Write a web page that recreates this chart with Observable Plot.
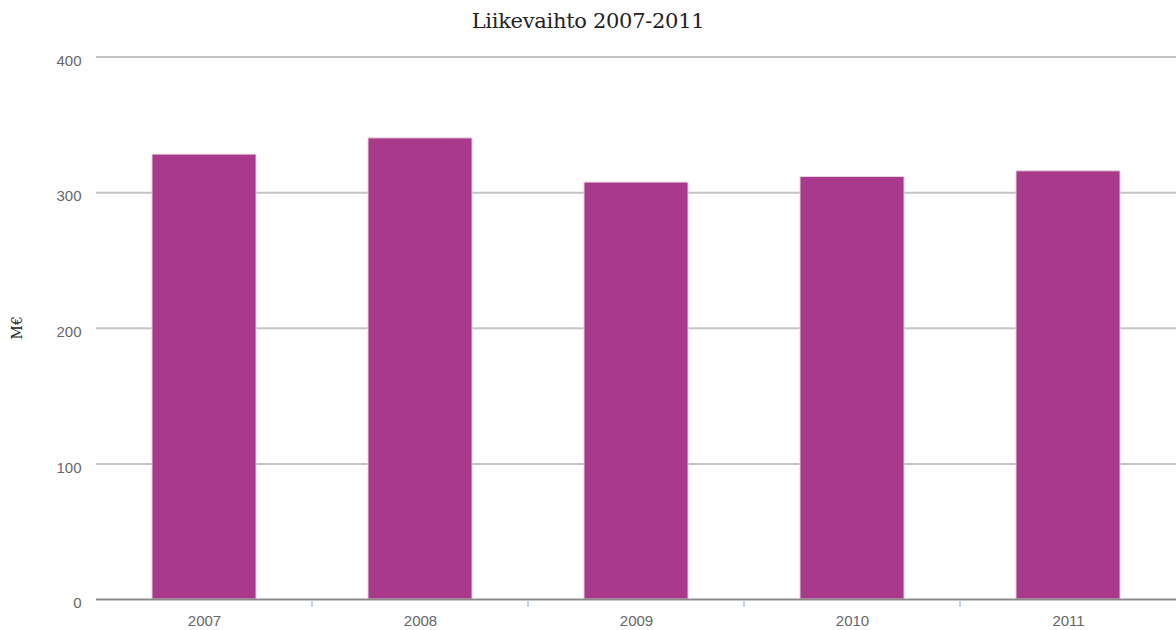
<!DOCTYPE html>
<html>
<head>
<meta charset="utf-8">
<script src="https://cdn.jsdelivr.net/npm/d3@7"></script>
<script src="https://cdn.jsdelivr.net/npm/@observablehq/plot@0.6"></script>
<style>
  html, body { margin: 0; padding: 0; background: #fff; }
  #title { height: 40px; line-height: 42px; text-align: center; font-family: "DejaVu Serif", "Liberation Serif", serif; font-size: 21px; color: #222; letter-spacing: -0.3px; }
  #chart svg { display: block; }
</style>
</head>
<body>
<div id="title">Liikevaihto 2007-2011</div>
<div id="chart"></div>
<script>
const years = ["2007", "2008", "2009", "2010", "2011"];
const revenue = [328, 340, 307.4, 311.5, 315.7];
const yTicks = [0, 100, 200, 300, 400];
const yLabel = "M€";

const data = years.map((y, i) => ({year: y, value: revenue[i]}));

const plot = Plot.plot({
  width: 1176,
  height: 590,
  marginTop: 16.5,
  marginBottom: 31,
  marginLeft: 96,
  marginRight: 0,
  style: {fontFamily: "'Liberation Sans', Arial, sans-serif", fontSize: "15px", color: "#666", background: "#fff"},
  x: {domain: years, paddingInner: 0.52, paddingOuter: 0.26, label: null},
  y: {domain: [0, 400], ticks: yTicks, label: null},
  marks: [
    Plot.ruleY(yTicks.filter(t => t > 0), {y: d => d, stroke: "#c4c4c4", strokeWidth: 2}),
    Plot.barY(data, {x: "year", y: "value", fill: "#a8398b", stroke: "#e6d2e0", strokeWidth: 1}),
    Plot.ruleY([0], {stroke: "#8a8a8a", strokeWidth: 2}),
    Plot.axisY({ticks: yTicks, tickSize: 0, tickPadding: 15, dy: 4, fill: "#666", fontSize: 15, label: null}),
    Plot.axisX({tickSize: 0, tickPadding: 16, fill: "#666", fontSize: 15, label: null})
  ]
});

document.getElementById("chart").appendChild(plot);

// Category boundary ticks below the baseline, placed via Plot's own scales
const xs = plot.scale("x");
const ys = plot.scale("y");
const svg = d3.select(plot);
const base = ys.apply(0);
const half = xs.step / 2;
years.slice(0, -1).forEach(y => {
  const cx = xs.apply(y) + xs.bandwidth / 2 + half;
  svg.append("line")
    .attr("x1", cx).attr("x2", cx)
    .attr("y1", base + 1).attr("y2", base + 8)
    .attr("stroke", "#c6d4e4").attr("stroke-width", 2);
});

// Rotated axis title
const midY = (ys.apply(400) + ys.apply(0)) / 2;
svg.append("text")
  .attr("transform", `translate(22,${midY}) rotate(-90)`)
  .attr("text-anchor", "middle")
  .attr("font-family", "'DejaVu Serif', 'Liberation Serif', serif")
  .attr("font-size", 14)
  .attr("fill", "#222")
  .text(yLabel);
</script>
</body>
</html>
